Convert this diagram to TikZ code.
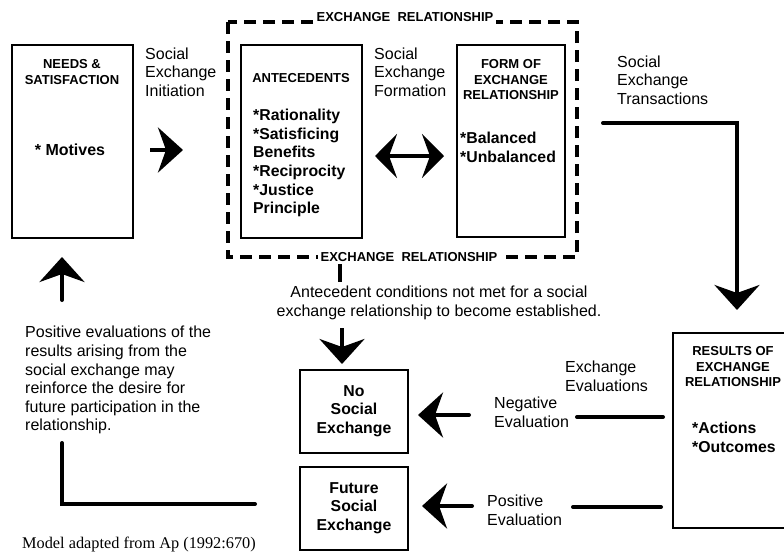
\documentclass[tikz,border=0pt]{standalone}
\usepackage{fontspec}
\setmainfont{Liberation Sans}
\newfontfamily\capserif{Liberation Serif}
\usetikzlibrary{arrows.meta}

\begin{document}
\begin{tikzpicture}[x=1pt, y=-1pt]
      \tikzstyle{box} = [
        draw,
        rectangle,
        line width = 1.3pt,
        inner sep = 0pt
      ]

      \tikzstyle{heading} = [
        font = \bfseries\fontsize{13}{15.5}\selectfont,
        align = center,
        inner sep = 0pt
      ]

      \tikzstyle{items} = [
        font = \bfseries\fontsize{15.8}{18.6}\selectfont,
        align = left,
        inner sep = 0pt
      ]

      \tikzstyle{note} = [
        font = \fontsize{16}{18.6}\selectfont,
        align = left,
        inner sep = 0pt
      ]

      \tikzstyle{frame} = [
        draw,
        line width = 3.5pt,
        dash pattern = on 12pt off 7pt
      ]

      \tikzstyle{thick line} = [
        line width = 4pt
      ]

      \tikzstyle{big arrow} = [
        line width = 4pt,
        -{Stealth[length=25pt, width=45pt, inset=8pt]}
      ]

      \useasboundingbox (0,0) rectangle (784,552);

      % boxes
      \node[box, minimum width=121pt, minimum height=193pt] (needs) at (72.5,141.5) {};
      \node[box, minimum width=121pt, minimum height=193pt] (antecedents) at (301.5,141.5) {};
      \node[box, minimum width=108pt, minimum height=192pt] (form) at (511,141) {};
      \node[box, minimum width=117pt, minimum height=195pt] (results) at (731.5,430.5) {};
      \node[box, minimum width=108pt, minimum height=83pt] (noexchange) at (354,411.5) {};
      \node[box, minimum width=108pt, minimum height=83pt] (future) at (354,508.5) {};

      % exchange relationship frame
      \draw[frame] (228,22) rectangle (577,257);
      \node[heading, fill=white, inner sep=3pt] (frametop) at (405,17) {EXCHANGE\ \ RELATIONSHIP};
      \node[heading, fill=white, inner sep=3pt] (framebottom) at (409,257) {EXCHANGE\ \ RELATIONSHIP};

      % box texts
      \node[heading] (needs head) at (72,72) {NEEDS \&\\SATISFACTION};
      \node[items, font=\bfseries\fontsize{16}{19}\selectfont] (motives) at (70,150) {* Motives};
      \node[heading] (antecedents head) at (301,78) {ANTECEDENTS};
      \node[items, anchor=north west] (antecedents list) at (253,109)
      {*Rationality\\*Satisficing\\Benefits\\*Reciprocity\\*Justice\\Principle};
      \node[heading] (form head) at (511,80) {FORM OF\\EXCHANGE\\RELATIONSHIP};
      \node[items, anchor=north west] (form list) at (460,132) {*Balanced\\*Unbalanced};
      \node[heading] (results head) at (733,367) {RESULTS OF\\EXCHANGE\\RELATIONSHIP};
      \node[items, anchor=north west] (results list) at (692,422) {*Actions\\*Outcomes};
      \node[items, align=center] (noexchange text) at (354,411) {No\\Social\\Exchange};
      \node[items, align=center] (future text) at (354,508) {Future\\Social\\Exchange};

      % connector labels
      \node[note, anchor=west] (initiation) at (145,72) {Social\\Exchange\\Initiation};
      \node[note, anchor=west] (formation) at (374,72) {Social\\Exchange\\Formation};
      \node[note, anchor=west] (transactions) at (617,80) {Social\\Exchange\\Transactions};
      \node[note, align=center] (unmet) at (439,303)
      {Antecedent conditions not met for a social\\exchange relationship to become established.};
      \node[note, anchor=west] (evaluations) at (565,376) {Exchange\\Evaluations};
      \node[note, anchor=west] (negative) at (494,412) {Negative\\Evaluation};
      \node[note, anchor=west] (positive) at (487,510) {Positive\\Evaluation};
      \node[note, anchor=north west] (feedback) at (25,326)
      {Positive evaluations of the\\results arising from the\\social exchange may\\reinforce the desire for\\future participation in the\\relationship.};
      \node[inner sep=0pt, anchor=west, font=\capserif\fontsize{16.3}{19}\selectfont] (source) at (22,544)
      {Model adapted from Ap (1992:670)};

      % connector end points
      \coordinate (ini start) at (150,150);
      \coordinate (ini end) at (183,150);
      \coordinate (form left) at (375,156);
      \coordinate (form right) at (444,156);
      \coordinate (trans start) at (603,123);
      \coordinate (trans end) at (737,310);
      \coordinate (tick top) at (340,264);
      \coordinate (tick bottom) at (340,282);
      \coordinate (unmet start) at (342,328);
      \coordinate (unmet end) at (342,364);
      \coordinate (neg line start) at (663,417);
      \coordinate (neg line end) at (577,417);
      \coordinate (neg start) at (469,415);
      \coordinate (neg end) at (418,415);
      \coordinate (pos line start) at (661,507);
      \coordinate (pos line end) at (573,507);
      \coordinate (pos start) at (472,506);
      \coordinate (pos end) at (422,506);
      \coordinate (loop right) at (255,504);
      \coordinate (loop top) at (62,443);
      \coordinate (up start) at (62,300);
      \coordinate (up end) at (62,257);

      % connectors
      \draw[big arrow] (ini start) -- (ini end);
      \draw[big arrow, {Stealth[length=22pt, width=44pt, inset=8pt]}-{Stealth[length=22pt, width=44pt, inset=8pt]}] (form left) -- (form right);
      \draw[big arrow, line cap=round] (trans start) -| (trans end);
      \draw[thick line] (tick top) -- (tick bottom);
      \draw[big arrow] (unmet start) -- (unmet end);
      \draw[thick line, line cap=round] (neg line start) -- (neg line end);
      \draw[big arrow, line cap=round] (neg start) -- (neg end);
      \draw[thick line, line cap=round] (pos line start) -- (pos line end);
      \draw[big arrow, line cap=round] (pos start) -- (pos end);
      \draw[thick line, line cap=round] (loop right) -| (loop top);
      \draw[big arrow, line cap=round] (up start) -- (up end);
\end{tikzpicture}
\end{document}
